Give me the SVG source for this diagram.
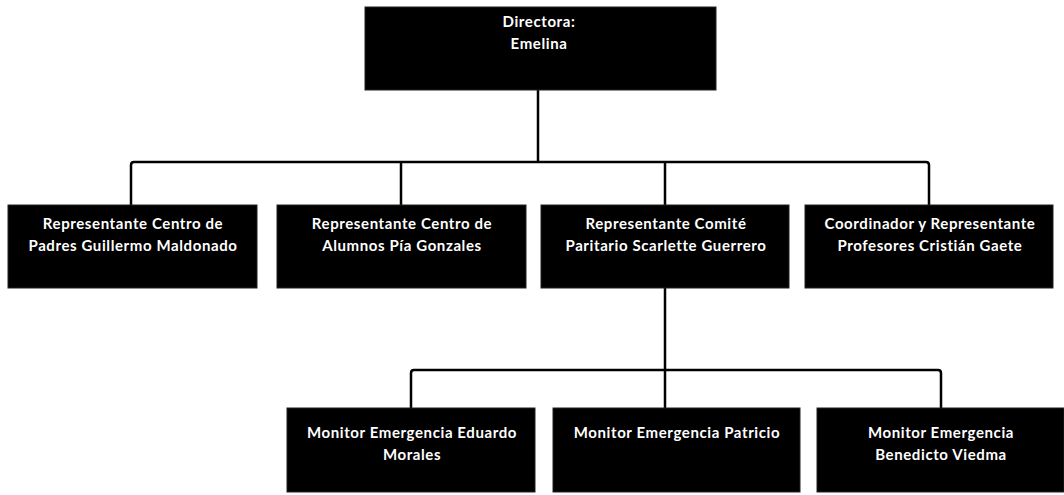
<svg xmlns="http://www.w3.org/2000/svg" width="1064" height="495" viewBox="0 0 1064 495">
<style>
.box{fill:#000;stroke:#222;stroke-width:1}
.t{fill:#fff;font-family:Lato,"Noto Sans",sans-serif;font-weight:700;font-size:15px;letter-spacing:0.6px;text-anchor:middle}
.c{fill:none;stroke:#000;stroke-width:2.5;stroke-linejoin:round}
</style>
<rect width="1064" height="495" fill="#fff"/>
<g id="connectors">
<path class="c" d="M538 90 V162"/>
<path class="c" d="M131 205 V165 Q131 162 134 162 H926 Q929 162 929 165 V205"/>
<path class="c" d="M401 162 V205"/>
<path class="c" d="M665 162 V205"/>
<path class="c" d="M665 288 V408"/>
<path class="c" d="M411 408 V373 Q411 370 414 370 H938 Q941 370 941 373 V408"/>
</g>
<g id="n-directora">
<rect class="box" x="365" y="7" width="351" height="83"/>
<text class="t" x="539" y="27">Directora:</text>
<text class="t" x="539" y="49">Emelina</text>
</g>
<g id="n-padres">
<rect class="box" x="8" y="205" width="249" height="83"/>
<text class="t" x="133" y="229">Representante Centro de</text>
<text class="t" x="133" y="251">Padres Guillermo Maldonado</text>
</g>
<g id="n-alumnos">
<rect class="box" x="277" y="205" width="249" height="83"/>
<text class="t" x="402" y="229">Representante Centro de</text>
<text class="t" x="402" y="251">Alumnos Pía Gonzales</text>
</g>
<g id="n-comite">
<rect class="box" x="541" y="205" width="248" height="83"/>
<text class="t" x="666" y="229">Representante Comité</text>
<text class="t" x="666" y="251">Paritario Scarlette Guerrero</text>
</g>
<g id="n-profesores">
<rect class="box" x="805" y="205" width="248" height="83"/>
<text class="t" x="930" y="229">Coordinador y Representante</text>
<text class="t" x="930" y="251">Profesores Cristián Gaete</text>
</g>
<g id="n-eduardo">
<rect class="box" x="287" y="408" width="248" height="84"/>
<text class="t" x="412" y="438">Monitor Emergencia Eduardo</text>
<text class="t" x="412" y="460">Morales</text>
</g>
<g id="n-patricio">
<rect class="box" x="553" y="408" width="247" height="84"/>
<text class="t" x="677" y="438">Monitor Emergencia Patricio</text>
</g>
<g id="n-benedicto">
<rect class="box" x="817" y="408" width="247" height="84"/>
<text class="t" x="941" y="438">Monitor Emergencia</text>
<text class="t" x="941" y="460">Benedicto Viedma</text>
</g>
</svg>
